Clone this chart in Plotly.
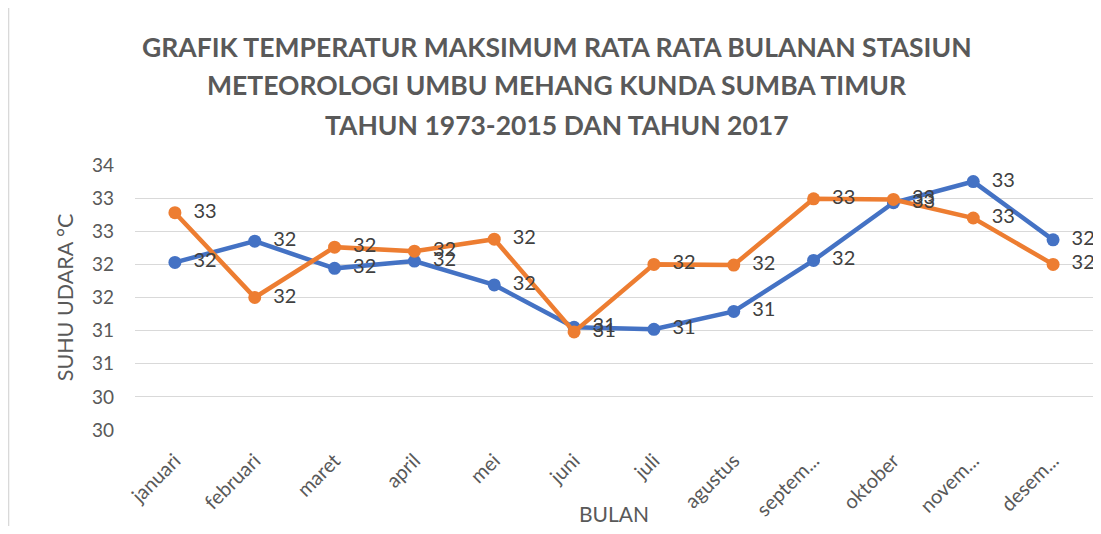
import numpy as np
import plotly.graph_objects as go

bulan = ["januari", "februari", "maret", "april", "mei", "juni",
         "juli", "agustus", "septem...", "oktober", "novem...", "desem..."]
suhu_1973_2015 = [32.53, 32.85, 32.44, 32.55, 32.19, 31.55,
                  31.52, 31.79, 32.56, 33.43, 33.75, 32.87]
suhu_2017 = [33.28, 32.00, 32.76, 32.70, 32.88, 31.48,
             32.50, 32.49, 33.49, 33.48, 33.20, 32.50]
y_ticks = [30, 30.5, 31, 31.5, 32, 32.5, 33, 33.5, 34]
judul = ["GRAFIK TEMPERATUR MAKSIMUM RATA RATA BULANAN STASIUN",
         "METEOROLOGI UMBU MEHANG KUNDA SUMBA TIMUR",
         "TAHUN 1973-2015 DAN TAHUN 2017"]

FONT = "Lato"
GREY = "#595959"

fig = go.Figure()
series = [("1973-2015", suhu_1973_2015, "#4472C4"),
          ("2017", suhu_2017, "#ED7D31")]
for name, vals, col in series:
    fig.add_trace(go.Scatter(x=bulan, y=vals, name=name, mode="lines+markers",
                             line=dict(color=col, width=4.5),
                             marker=dict(color=col, size=13)))
# data labels on top of every line (invisible marker gives the gap)
for name, vals, col in series:
    fig.add_trace(go.Scatter(x=bulan, y=vals, mode="markers+text",
                             marker=dict(size=28, opacity=0),
                             text=[str(int(v)) for v in np.floor(vals)],
                             textposition="middle right",
                             textfont=dict(family=FONT, size=20, color="#404040"),
                             cliponaxis=False,
                             hoverinfo="skip"))

# judul: one annotation per line (Excel spacing)
title_y = [1.447, 1.300, 1.150]
for txt, ty in zip(judul, title_y):
    fig.add_annotation(text="<b>" + txt + "</b>", x=0.441, y=ty, xref="paper", yref="paper",
                       showarrow=False, xanchor="center", yanchor="middle",
                       font=dict(family=FONT, size=26.5, color=GREY))

# chart border
fig.add_shape(type="rect", xref="paper", yref="paper",
              x0=-0.132, x1=1.004, y0=-0.45, y1=1.6,
              line=dict(color="#D9D9D9", width=1.5))

fig.update_layout(
    width=1093, height=518,
    margin=dict(l=127, r=8, t=157, b=96),
    paper_bgcolor="white", plot_bgcolor="white",
    showlegend=False,
    font=dict(family=FONT, size=18, color=GREY),
    xaxis=dict(range=[-0.5, 11.5], showgrid=False, zeroline=False, showline=False,
               automargin=False,
               tickangle=-45, tickfont=dict(size=20, color=GREY),
               ticklabelstandoff=14,
               title=dict(text="BULAN", font=dict(size=21, color=GREY), standoff=0)),
    yaxis=dict(range=[30, 34], tickvals=y_ticks,
               ticktext=[str(int(np.floor(t))) for t in y_ticks],
               automargin=False,
               showgrid=True, gridcolor="#D9D9D9", gridwidth=1.3, zeroline=False,
               tickfont=dict(size=19, color=GREY), ticklabelstandoff=20,
               title=dict(text="SUHU UDARA °C", font=dict(size=21.5, color=GREY), standoff=12)),
)

fig.write_html("out.html")
